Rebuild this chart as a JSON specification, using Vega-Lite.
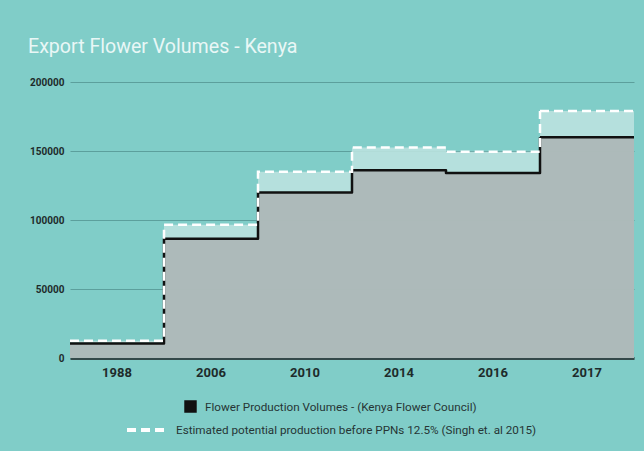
{
  "$schema": "https://vega.github.io/schema/vega-lite/v6.json",
  "width": 564,
  "height": 276,
  "autosize": {"type": "none"},
  "padding": {"left": 70, "top": 82, "right": 10, "bottom": 93},
  "background": "#80cdc8",
  "title": {
    "text": "Export Flower Volumes - Kenya",
    "anchor": "start",
    "frame": "group",
    "dx": -42,
    "offset": 19,
    "font": "Roboto",
    "fontSize": 19.6,
    "fontWeight": "normal",
    "color": "#e9f7f6"
  },
  "config": {
    "view": {"stroke": null},
    "font": "Roboto"
  },
  "data": {
    "values": [
      {"year": "1988", "production": 10500, "estimated": 12500},
      {"year": "2006", "production": 86500, "estimated": 96500},
      {"year": "2010", "production": 120000, "estimated": 135000},
      {"year": "2014", "production": 136000, "estimated": 152500},
      {"year": "2016", "production": 134000, "estimated": 149500},
      {"year": "2017", "production": 160000, "estimated": 179000}
    ]
  },
  "encoding": {
    "x": {
      "field": "year",
      "type": "ordinal",
      "sort": null,
      "scale": {"type": "band", "paddingInner": 0, "paddingOuter": 0},
      "axis": {
        "title": null,
        "labelAngle": 0,
        "ticks": false,
        "domainColor": "#34494a",
        "domainWidth": 3,
        "labelFont": "Roboto",
        "labelFontSize": 13,
        "labelFontWeight": "bold",
        "labelColor": "#1e2b2b",
        "labelPadding": 8
      }
    }
  },
  "layer": [
    {
      "mark": {"type": "bar", "color": "#bae2df", "opacity": 0.9},
      "encoding": {
        "y": {
          "field": "estimated",
          "type": "quantitative",
          "scale": {"domain": [0, 200000]},
          "axis": {
            "title": null,
            "values": [0, 50000, 100000, 150000, 200000],
            "format": "d",
            "domain": false,
            "ticks": false,
            "gridColor": "#5c9f9c",
            "gridWidth": 1,
            "labelFont": "Roboto",
            "labelFontSize": 10,
            "labelFontWeight": "bold",
            "labelColor": "#1e2b2b",
            "labelPadding": 6
          }
        }
      }
    },
    {
      "mark": {"type": "bar", "color": "#acb6b6", "opacity": 0.9},
      "encoding": {"y": {"field": "production", "type": "quantitative"}}
    },
    {
      "mark": {"type": "line", "interpolate": "step-after", "color": "#111111", "strokeWidth": 2.5, "strokeJoin": "round"},
      "encoding": {
        "x": {"field": "year", "type": "ordinal", "sort": null, "bandPosition": 0},
        "y": {"field": "production", "type": "quantitative"},
        "color": {
          "datum": "Flower Production Volumes - (Kenya Flower Council)",
          "scale": {"range": ["#111111"]},
          "legend": {
            "title": null,
            "orient": "none",
            "legendX": 114,
            "legendY": 318,
            "symbolType": "square",
            "symbolSize": 120,
            "symbolFillColor": "#111111",
            "symbolStrokeColor": "#111111",
            "labelFont": "Roboto",
            "labelFontSize": 11.7,
            "labelLimit": 0,
            "labelColor": "#263535",
            "labelOffset": 8
          }
        }
      }
    },
    {
      "transform": [{"filter": "datum.year == '2017'"}],
      "mark": {"type": "rule", "color": "#111111", "strokeWidth": 2.5},
      "encoding": {
        "x": {"field": "year", "type": "ordinal", "sort": null, "bandPosition": 0},
        "x2": {"field": "year", "bandPosition": 1},
        "y": {"field": "production", "type": "quantitative"}
      }
    },
    {
      "mark": {"type": "line", "interpolate": "step-after", "color": "#ffffff", "strokeWidth": 2.5, "strokeDash": [9, 5]},
      "encoding": {
        "x": {"field": "year", "type": "ordinal", "sort": null, "bandPosition": 0},
        "y": {"field": "estimated", "type": "quantitative"},
        "strokeDash": {
          "datum": "Estimated potential production before PPNs 12.5% (Singh et. al 2015)",
          "scale": {"range": [[9, 5]]},
          "legend": {
            "title": null,
            "orient": "none",
            "legendX": 65,
            "legendY": 336,
            "symbolType": "M-2,0H2",
            "symbolSize": 400,
            "symbolStrokeColor": "#ffffff",
            "symbolStrokeWidth": 4,
            "symbolDash": [14, 12],
            "labelFont": "Roboto",
            "labelFontSize": 11.7,
            "labelLimit": 0,
            "labelColor": "#263535",
            "labelOffset": 17
          }
        }
      }
    },
    {
      "transform": [{"filter": "datum.year == '2017'"}],
      "mark": {"type": "rule", "color": "#ffffff", "strokeWidth": 2.5, "strokeDash": [9, 5]},
      "encoding": {
        "x": {"field": "year", "type": "ordinal", "sort": null, "bandPosition": 0},
        "x2": {"field": "year", "bandPosition": 1},
        "y": {"field": "estimated", "type": "quantitative"}
      }
    }
  ]
}
